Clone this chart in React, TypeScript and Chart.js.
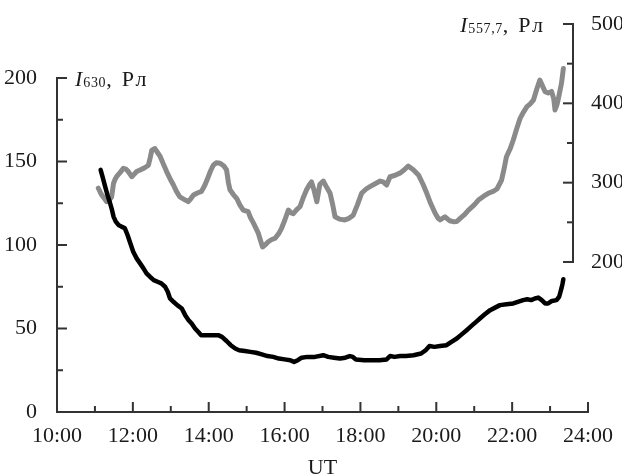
import React, { useEffect, useRef } from "react";
import { Chart, registerables } from "chart.js";

Chart.register(...registerables);

// I630 (left axis, Рл) — time in UT hours
const i630Hours = [
  11.15, 11.2, 11.27, 11.33, 11.4, 11.45, 11.49, 11.55, 11.62, 11.7, 11.79, 11.86, 11.92, 12.01, 12.1,
  12.19, 12.28, 12.36, 12.45, 12.55, 12.65, 12.75, 12.85, 12.92, 12.98, 13.07, 13.17, 13.29, 13.38,
  13.47, 13.55, 13.64, 13.72, 13.8, 13.9, 14.03, 14.15, 14.25, 14.35, 14.47, 14.58, 14.7, 14.8, 14.95,
  15.1, 15.25, 15.4, 15.55, 15.7, 15.85, 16.0, 16.15, 16.25, 16.35, 16.45, 16.6, 16.8, 17.02, 17.15,
  17.3, 17.46, 17.6, 17.72, 17.8, 17.88, 18.1, 18.3, 18.5, 18.69, 18.78, 18.9, 19.05, 19.2, 19.4, 19.6,
  19.72, 19.82, 19.95, 20.1, 20.27, 20.4, 20.54, 20.67, 20.8, 20.95, 21.05, 21.15, 21.28, 21.42, 21.55,
  21.68, 21.85, 22.03, 22.15, 22.29, 22.4, 22.5, 22.6, 22.69, 22.78, 22.87, 22.95, 23.05, 23.17, 23.24,
  23.3, 23.33, 23.35,
];
const i630Values = [
  145, 141, 135, 130, 125, 121, 117, 114, 112, 111, 110, 106, 102, 96, 92,
  89, 86, 83, 81, 79, 78, 77, 75, 72, 68, 66, 64, 62, 58,
  55, 53, 50, 48, 46, 46, 46, 46, 46, 45, 42.5, 40, 38, 37, 36.5,
  36, 35.5, 34.5, 33.5, 33, 32, 31.5, 31, 30, 31, 32.5, 33, 33, 34, 33,
  32.5, 32, 32.5, 33.5, 33, 31.5, 31, 31, 31, 31.5, 33.5, 33, 33.5, 33.5, 34, 35,
  37, 39.5, 39, 39.5, 40, 42, 44, 46.5, 49, 52, 54, 56, 58.5, 61, 62.5,
  64, 64.5, 65, 66, 67, 67.5, 67, 68, 68.5, 67, 65, 65, 66.5, 67, 69,
  74, 77, 79.5,
];

// I557.7 (right axis, Рл)
const i557Hours = [
  11.09, 11.14, 11.18, 11.25, 11.31, 11.38, 11.44, 11.49, 11.53, 11.57, 11.65, 11.75, 11.82, 11.88,
  11.97, 12.04, 12.1, 12.19, 12.28, 12.35, 12.41, 12.46, 12.5, 12.58, 12.65, 12.72, 12.8, 12.89, 12.98,
  13.07, 13.15, 13.24, 13.35, 13.46, 13.53, 13.6, 13.7, 13.81, 13.9, 13.99, 14.05, 14.12, 14.2, 14.3,
  14.4, 14.47, 14.52, 14.56, 14.65, 14.74, 14.82, 14.91, 15.04, 15.1, 15.18, 15.25, 15.31, 15.36, 15.42,
  15.5, 15.57, 15.65, 15.75, 15.85, 15.92, 16.0, 16.1, 16.17, 16.23, 16.32, 16.41, 16.5, 16.58, 16.65,
  16.71, 16.78, 16.85, 16.93, 17.02, 17.1, 17.2, 17.27, 17.33, 17.45, 17.59, 17.7, 17.81, 17.92, 18.03,
  18.15, 18.25, 18.4, 18.52, 18.6, 18.69, 18.78, 18.9, 19.04, 19.15, 19.26, 19.4, 19.53, 19.65, 19.75,
  19.85, 19.97, 20.05, 20.1, 20.23, 20.35, 20.45, 20.54, 20.63, 20.75, 20.85, 21.0, 21.11, 21.25, 21.37,
  21.5, 21.6, 21.72, 21.79, 21.85, 21.95, 22.03, 22.12, 22.21, 22.3, 22.39, 22.47, 22.56, 22.65, 22.73,
  22.8, 22.87, 22.95, 23.04, 23.1, 23.13, 23.18, 23.21, 23.27, 23.3, 23.33, 23.35,
];
const i557Values = [
  293, 288, 284.5, 280, 276, 278, 282, 299, 304, 307.5, 312, 318, 317, 314,
  307.5, 311, 314, 316, 318, 320, 322, 332, 341, 343, 338, 333, 324, 314, 305,
  297, 289, 282, 279, 276, 280, 284.5, 287, 289, 297, 307.5, 315, 322, 325, 324.5,
  321, 316, 300, 291, 285, 280, 272, 265.5, 263.5, 256, 249, 242, 236, 228, 219,
  222, 225.5, 228, 230, 236, 242.5, 252, 265.5, 262, 261, 266, 270, 282, 291, 297,
  301, 290, 276, 298, 302, 295, 286.6, 272, 257, 254, 253, 255, 259, 272, 286.6,
  292, 295, 299, 302, 301, 297, 307.5, 309, 312, 316, 321, 316, 309.7, 298, 286.6,
  274, 261.4, 255, 253, 257, 252, 250.8, 251, 255, 260, 265.5, 272, 278, 283, 286.6,
  289, 292, 303, 318, 332.7, 343, 353.8, 368, 381, 389, 395.8, 399, 404, 418, 429.4,
  422, 414.7, 413, 415, 405, 391.6, 398, 404, 418, 425, 436, 444,
];

const xTickHours = [10, 12, 14, 16, 18, 20, 22, 24];
const leftTicks = [0, 50, 100, 150, 200];
const rightTicks = [200, 300, 400, 500];

const SERIF = "'Liberation Serif', 'DejaVu Serif', serif";
const TEXT = "#1a1a1a";
const AXIS = "#333333";
const AXIS_W = 2;

const inwardAxes = {
  id: "inwardAxes",
  afterDraw(chart: any) {
    const { ctx, scales, chartArea } = chart;
    const x = scales.x;
    const yL = scales.yL;
    const yR = scales.yR;
    const h2 = AXIS_W / 2;
    // horizontal segment from x1 to x2 at y
    const hseg = (x1: number, x2: number, y: number) => {
      const a = Math.min(x1, x2);
      const b = Math.max(x1, x2);
      ctx.fillRect(a - h2, y - h2, b - a + AXIS_W, AXIS_W);
    };
    // vertical segment from y1 to y2 at x
    const vseg = (px: number, y1: number, y2: number) => {
      const a = Math.min(y1, y2);
      const b = Math.max(y1, y2);
      ctx.fillRect(px - h2, a - h2, AXIS_W, b - a + AXIS_W);
    };
    ctx.save();
    ctx.fillStyle = AXIS;
    const bottom = yL.getPixelForValue(leftTicks[0]);
    const left = x.getPixelForValue(xTickHours[0]);
    const right = x.getPixelForValue(xTickHours[xTickHours.length - 1]);
    // bottom axis
    hseg(left, right, bottom);
    for (let h = xTickHours[0] + 1; h <= xTickHours[xTickHours.length - 1]; h++) {
      const px = x.getPixelForValue(h);
      const len = h % 2 === 0 ? 9 : 5;
      vseg(px, bottom, bottom - len);
    }
    // left axis
    const top = yL.getPixelForValue(leftTicks[leftTicks.length - 1]);
    vseg(left, bottom, top);
    for (let v = 25; v <= leftTicks[leftTicks.length - 1]; v += 25) {
      const py = yL.getPixelForValue(v);
      const len = v % 50 === 0 ? 9 : 5;
      hseg(left, left + len, py);
    }
    // right axis (partial)
    const rx = chartArea.right - 15;
    const r0 = yR.getPixelForValue(rightTicks[0]);
    const r1 = yR.getPixelForValue(rightTicks[rightTicks.length - 1]);
    vseg(rx, r0, r1);
    for (let v = rightTicks[0]; v <= rightTicks[rightTicks.length - 1]; v += 50) {
      const py = yR.getPixelForValue(v);
      const len = v % 100 === 0 ? 9 : 5;
      hseg(rx, rx - len, py);
    }
    ctx.restore();
  },
};

export default function App() {
  const ref = useRef<HTMLCanvasElement | null>(null);

  useEffect(() => {
    if (!ref.current) return;
    const chart = new Chart(ref.current, {
      type: "line",
      data: {
        datasets: [
          {
            label: "I630",
            data: i630Hours.map((h, i) => ({ x: h, y: i630Values[i] })),
            yAxisID: "yL",
            borderColor: "#000000",
            borderWidth: 4.5,
            pointRadius: 0,
            tension: 0,
            borderJoinStyle: "round",
            borderCapStyle: "round",
          },
          {
            label: "I557,7",
            data: i557Hours.map((h, i) => ({ x: h, y: i557Values[i] })),
            yAxisID: "yR",
            borderColor: "#8a8a8a",
            borderWidth: 5,
            pointRadius: 0,
            tension: 0,
            borderJoinStyle: "round",
            borderCapStyle: "round",
          },
        ],
      },
      options: {
        responsive: false,
        animation: false,
        layout: { padding: { top: 24, left: 0, right: 0, bottom: 0 } },
        plugins: { legend: { display: false }, tooltip: { enabled: false } },
        scales: {
          x: {
            type: "linear",
            min: 10,
            max: 24,
            grid: { display: false },
            border: { display: false },
            afterBuildTicks: (s: any) => {
              s.ticks = xTickHours.map((v) => ({ value: v }));
            },
            afterFit: (s: any) => {
              s.height = 64;
            },
            ticks: {
              autoSkip: false,
              maxRotation: 0,
              padding: 5,
              color: TEXT,
              font: { family: SERIF, size: 22, lineHeight: 1 },
              callback: (v: any) => `${v}:00`,
            },
            title: {
              display: true,
              text: "UT",
              color: TEXT,
              font: { family: SERIF, size: 22, lineHeight: 1 },
              padding: { top: 0, bottom: -3 },
            },
          },
          yL: {
            type: "linear",
            position: "left",
            min: 0,
            max: 232.34,
            grid: { display: false },
            border: { display: false },
            afterBuildTicks: (s: any) => {
              s.ticks = leftTicks.map((v) => ({ value: v }));
            },
            afterFit: (s: any) => {
              s.width = 57;
            },
            ticks: {
              padding: 12,
              color: TEXT,
              font: { family: SERIF, size: 22, lineHeight: 1 },
            },
          },
          yR: {
            type: "linear",
            position: "right",
            min: 10.9,
            max: 500,
            grid: { display: false },
            border: { display: false },
            afterBuildTicks: (s: any) => {
              s.ticks = rightTicks.map((v) => ({ value: v }));
            },
            afterFit: (s: any) => {
              s.width = 34;
            },
            ticks: {
              padding: -5,
              color: TEXT,
              font: { family: SERIF, size: 22, lineHeight: 1 },
            },
          },
        },
      },
      plugins: [inwardAxes],
    } as any);
    return () => chart.destroy();
  }, []);

  const titleStyle: React.CSSProperties = {
    position: "absolute",
    fontFamily: SERIF,
    fontSize: 22,
    lineHeight: "22px",
    color: TEXT,
    whiteSpace: "nowrap",
  };
  const subStyle: React.CSSProperties = { fontSize: 14, letterSpacing: "0.6px", verticalAlign: "-1px", marginLeft: 1 };
  const unitStyle: React.CSSProperties = { letterSpacing: "1.5px", marginLeft: 10 };

  return (
    <div style={{ position: "fixed", left: 0, top: 0, width: 622, height: 476, background: "#fff" }}>
      <canvas ref={ref} width={622} height={476} style={{ display: "block" }} />
      <div style={{ ...titleStyle, left: 75, top: 68 }}>
        <i>I</i>
        <span style={subStyle}>630</span>,<span style={unitStyle}>Рл</span>
      </div>
      <div style={{ ...titleStyle, left: 460, top: 14 }}>
        <i>I</i>
        <span style={subStyle}>557,7</span>,<span style={unitStyle}>Рл</span>
      </div>
    </div>
  );
}
